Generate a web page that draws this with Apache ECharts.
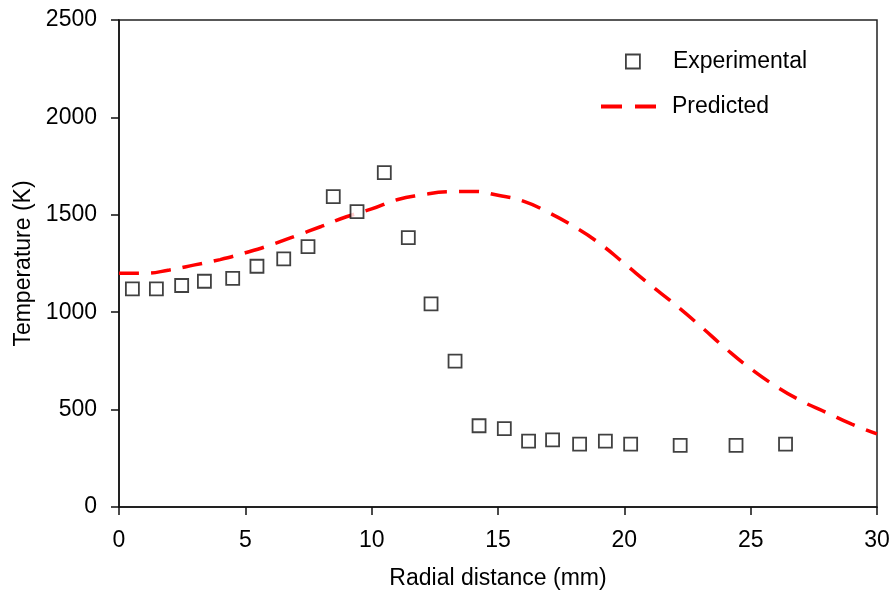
<!DOCTYPE html>
<html>
<head>
<meta charset="utf-8">
<script src="https://cdn.jsdelivr.net/npm/echarts@6/dist/echarts.min.js"></script>
<style>
html,body{margin:0;padding:0;background:#fff;}
#chart{width:896px;height:599px;}
</style>
</head>
<body>
<div id="chart"></div>
<script>
// Experimental data
var expX = [0.53, 1.48, 2.48, 3.38, 4.5, 5.46, 6.52, 7.48, 8.48, 9.42, 10.5, 11.45, 12.35, 13.3, 14.25, 15.25, 16.21, 17.16, 18.23, 19.25, 20.25, 22.21, 24.42, 26.38];
var expY = [1120, 1120, 1137, 1159, 1174, 1236, 1274, 1337, 1593, 1516, 1716, 1383, 1043, 749, 417, 402, 338, 345, 323, 338, 323, 316, 316, 323];
// Predicted curve
var predX = [0, 1, 2, 3, 4, 5, 6, 7, 8, 9, 10, 11, 12, 13, 14, 15, 16, 17, 18, 19, 20, 21, 22, 23, 24, 25, 26, 27, 28, 29, 30];
var predY = [1200, 1200, 1217, 1243, 1270, 1305, 1345, 1392, 1440, 1490, 1530, 1577, 1602, 1618, 1620, 1600, 1570, 1512, 1440, 1355, 1250, 1143, 1040, 930, 815, 710, 620, 545, 485, 425, 375];
// Axis ticks
var xTicks = [0, 5, 10, 15, 20, 25, 30];
var yTicks = [0, 500, 1000, 1500, 2000, 2500];

var FONT = '"Liberation Sans", Arial, sans-serif';
var FS = 23;

function pairs(xs, ys) { return xs.map(function (x, i) { return [x, ys[i]]; }); }

var chart = echarts.init(document.getElementById('chart'), null, {renderer: 'canvas'});
chart.setOption({
  animation: false,
  backgroundColor: '#fff',
  grid: {left: 119, right: 19, top: 20, bottom: 92, show: true, borderColor: '#222', borderWidth: 1.5, backgroundColor: 'transparent'},
  legend: [
    {
      data: [{name: 'Experimental', icon: 'rect'}],
      left: 625, top: 50, padding: 0,
      itemWidth: 14, itemHeight: 14,
      itemStyle: {color: '#fff', borderColor: '#111', borderWidth: 1.8},
      textStyle: {fontFamily: FONT, fontSize: FS, color: '#000', padding: [0, 0, 0, 28]},
      selectedMode: false
    },
    {
      data: [{name: 'Predicted', icon: 'path://M0,0 H21 V4 H0 Z M34,0 H55 V4 H34 Z'}],
      left: 601, top: 95, padding: 0,
      itemWidth: 55, itemHeight: 14,
      itemStyle: {color: '#ff0000', borderWidth: 0},
      textStyle: {fontFamily: FONT, fontSize: FS, color: '#000', padding: [0, 0, 0, 11]},
      selectedMode: false
    }
  ],
  xAxis: {
    type: 'value', min: xTicks[0], max: xTicks[xTicks.length - 1], interval: 5,
    name: 'Radial distance (mm)', nameLocation: 'middle', nameGap: 60,
    nameTextStyle: {fontFamily: FONT, fontSize: FS, color: '#000'},
    axisLine: {show: true, onZero: false, lineStyle: {color: '#111', width: 1.5}},
    axisTick: {show: true, inside: false, length: 8, lineStyle: {color: '#111', width: 1.5}},
    axisLabel: {fontFamily: FONT, fontSize: FS, color: '#000', margin: 22},
    splitLine: {show: false}
  },
  yAxis: {
    type: 'value', min: yTicks[0], max: yTicks[yTicks.length - 1], interval: 500,
    name: 'Temperature (K)', nameLocation: 'middle', nameGap: 84, nameRotate: 90,
    nameTextStyle: {fontFamily: FONT, fontSize: FS, color: '#000'},
    axisLine: {show: true, onZero: false, lineStyle: {color: '#111', width: 1.5}},
    axisTick: {show: true, inside: false, length: 8, lineStyle: {color: '#111', width: 1.5}},
    axisLabel: {fontFamily: FONT, fontSize: FS, color: '#000', margin: 22, formatter: function (v) { return String(v); }},
    splitLine: {show: false}
  },
  series: [
    {
      name: 'Experimental', type: 'scatter',
      symbol: 'rect', symbolSize: 13,
      itemStyle: {color: '#fff', borderColor: '#111', borderWidth: 1.8},
      data: pairs(expX, expY), z: 3
    },
    {
      name: 'Predicted', type: 'line',
      smooth: true, showSymbol: false, symbol: 'none',
      lineStyle: {color: '#ff0000', width: 3.5, type: [20, 12]},
      itemStyle: {color: '#ff0000'},
      data: pairs(predX, predY), z: 2
    }
  ]
});
</script>
</body>
</html>
